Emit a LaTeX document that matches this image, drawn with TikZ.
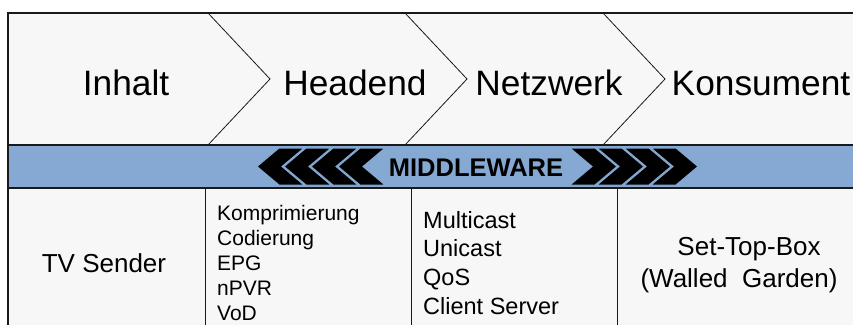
\documentclass[tikz,border=0pt]{standalone}
\usepackage{fontspec}
\setmainfont{Liberation Sans}
\usepackage{tikz}
\definecolor{panelgray}{RGB}{247,247,247}
\definecolor{bandblue}{RGB}{133,169,211}
\definecolor{framegray}{RGB}{25,25,25}

\tikzset{
  frame/.style={draw=framegray, line width=1.3pt},
  divider/.style={draw=framegray, line width=0.8pt},
  stage/.style={anchor=base, inner sep=0pt, font=\fontsize{35.3}{35.3}\selectfont},
  arrowtip/.style={fill=black, draw=bandblue, line width=1pt, line join=miter},
  task/.style={anchor=base west, inner sep=0pt},
  cell/.style={anchor=base, inner sep=0pt, font=\fontsize{26}{26}\selectfont}
}

\begin{document}
\begin{tikzpicture}[x=1pt,y=-1pt]
\useasboundingbox (0,0) rectangle (853,325);
\fill[panelgray] (8,13) rectangle (853,325);
\fill[bandblue] (8,145) rectangle (853,188);

\foreach \x in {208,405,603}
   \draw[divider] (\x,13) -- (\x+62,79) -- (\x,145);
\foreach \x in {205,411,617}
   \draw[divider] (\x,188) -- (\x,325);

\draw[frame] (8,325) -- (8,13) -- (853,13);
\draw[frame] (8,145) -- (853,145);
\draw[frame] (8,188) -- (853,188);

\node[stage] (inhalt) at (126,95) {Inhalt};
\node[stage] (headend) at (355,95) {Headend};
\node[stage] (netz) at (549,95) {Netzwerk};
\node[stage] (konsument) at (761,95) {Konsument};

\foreach \i in {0,1,2,3}
   \filldraw[arrowtip] ({385-27*\i},148) -- ++(-25,0) -- ++(-22,18.5) -- ++(22,18.5)
      -- ++(25,0) -- ++(-22,-18.5) -- cycle;
\foreach \i in {0,1,2,3}
   \filldraw[arrowtip] ({570+27*\i},148) -- ++(25,0) -- ++(22,18.5) -- ++(-22,18.5)
      -- ++(-25,0) -- ++(22,-18.5) -- cycle;
\node[font=\bfseries\fontsize{25.5}{25.5}\selectfont, inner sep=0pt] (mw) at (476,167.5) {MIDDLEWARE};

\node[cell] (sender) at (104,272) {TV Sender};

\foreach \t [count=\i] in {Komprimierung,Codierung,EPG,nPVR,VoD}
   \node[task, font=\fontsize{21}{21}\selectfont] (head-\i) at (217,{220+25.2*(\i-1)}) {\t};
\foreach \t [count=\i] in {Multicast,Unicast,QoS,Client Server}
   \node[task, font=\fontsize{23.5}{23.5}\selectfont] (net-\i) at (423,{228+28.7*(\i-1)}) {\t};

\node[cell] (stb) at (749,255) {Set-Top-Box};
\node[cell] (garden) at (739,287) {(Walled\ \ Garden)};
\end{tikzpicture}
\end{document}
